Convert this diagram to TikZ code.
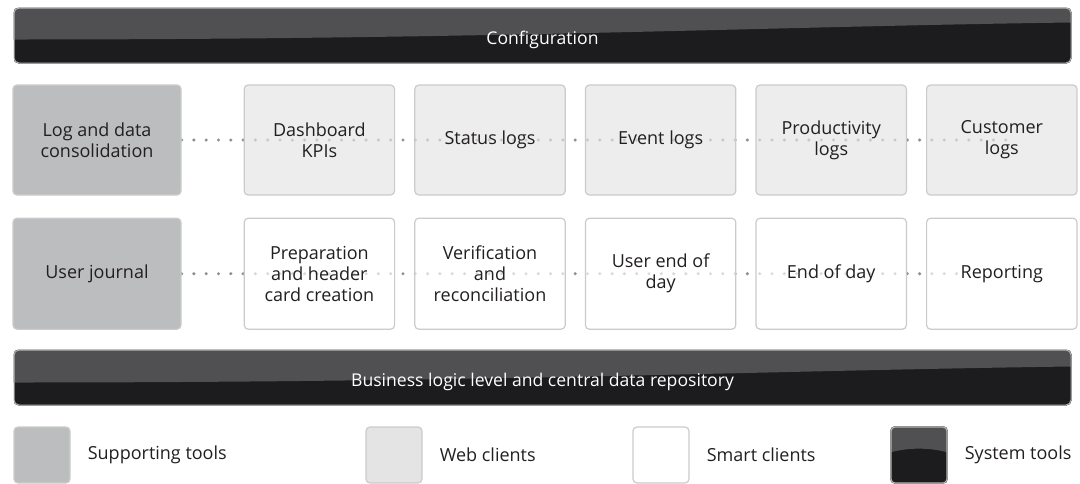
\documentclass[tikz,border=0pt]{standalone}
\usepackage{fontspec}
\setmainfont{Open Sans}
\usetikzlibrary{positioning, backgrounds}

\definecolor{supportgray}{HTML}{BCBDBF}
\definecolor{webgray}{HTML}{E3E4E3}
\definecolor{boxline}{HTML}{CBCBCB}
\definecolor{barlight}{HTML}{505052}
\definecolor{bardark}{HTML}{1C1B1E}
\definecolor{barline}{HTML}{B4B4B4}
\definecolor{dotgray}{HTML}{8E8E8E}
\definecolor{textdark}{HTML}{231F20}

% light upper part of a dark bar
\newcommand{\barshade}[3]{%
  \begin{scope}
    \clip[rounded corners=5pt] (#1.north west) rectangle (#1.south east);
    \fill[bardark] (#1.north west) rectangle (#1.south east);
    \fill[barlight] (#1.north west) -- ([yshift=-#2]#1.north west)
      .. controls ([xshift=480pt,yshift=-#2]#1.north west) and ([xshift=-300pt,yshift=-#3-4pt]#1.north east)
      .. ([yshift=-#3]#1.north east) -- (#1.north east) -- cycle;
  \end{scope}}

\begin{document}
\begin{tikzpicture}[x=1pt, y=-1pt, node distance=19pt,
    block/.style={draw=boxline, line width=1.2pt, rounded corners=4pt, minimum width=150.4pt, minimum height=110pt,
      align=center, inner sep=0pt, text=textdark, fill opacity=0.68, text opacity=1,
      font=\fontsize{18}{21}\selectfont},
    bar/.style={draw=barline, line width=1pt, rounded corners=5pt, minimum width=1057pt, minimum height=55pt,
      text=white, text height=17pt, text depth=0pt, font=\fontsize{17.6}{21}\selectfont},
    legsq/.style={draw=boxline, line width=1.2pt, rounded corners=4pt, minimum size=56pt, inner sep=0pt},
    legtext/.style={right=17pt of #1, text=textdark, font=\fontsize{18}{21}\selectfont, inner sep=0pt},
    dots/.style={dotgray, line width=3.4pt, line cap=round, dash pattern=on 0pt off 12.3pt}]

    \useasboundingbox (0,0) rectangle (1080,483);

    % Bars
    \node[bar] (config) at (542.5,35.5) {Configuration};
    \node[bar] (repo) at (542.5,377.5) {Business logic level and central data repository};

    % Row of logs
    \node[block, fill=supportgray, fill opacity=1, minimum width=168pt] (log) at (97,140) {Log and data\\consolidation};
    \node[block, fill=webgray, right=62pt of log] (kpi) {Dashboard\\KPIs};
    \node[block, fill=webgray, right=of kpi] (status) {Status logs};
    \node[block, fill=webgray, right=of status] (event) {Event logs};
    \node[block, fill=webgray, right=of event] (prod) {Productivity\\logs};
    \node[block, fill=webgray, right=of prod] (cust) {Customer\\logs};

    % Row of user tasks
    \node[block, fill=supportgray, fill opacity=1, minimum width=168pt, minimum height=111pt, below=22pt of log] (journal) {User journal};
    \node[block, fill=white, minimum height=111pt, right=62pt of journal] (prep) {Preparation\\and header\\card creation};
    \node[block, fill=white, minimum height=111pt, right=of prep] (verif) {Verification\\and\\reconciliation};
    \node[block, fill=white, minimum height=111pt, right=of verif] (userend) {User end of\\day};
    \node[block, fill=white, minimum height=111pt, right=of userend] (eod) {End of day};
    \node[block, fill=white, minimum height=111pt, right=of eod] (report) {Reporting};

    \coordinate[right=15pt of cust.center] (logsend);
    \coordinate[left=40pt of report.center] (tasksend);

    % Legend
    \node[legsq, fill=supportgray] (legsupport) at (42,455) {};
    \node[legtext=legsupport] {Supporting tools};
    \node[legsq, fill=webgray] (legweb) at (394,455) {};
    \node[legtext=legweb] {Web clients};
    \node[legsq, fill=white] (legsmart) at (661,455) {};
    \node[legtext=legsmart] {Smart clients};
    \node[legsq, draw=barline] (legsys) at (919,455) {};
    \node[legtext=legsys] {System tools};

    \begin{scope}[on background layer]
        \barshade{config}{32pt}{15pt}
        \barshade{repo}{33pt}{17pt}
        \begin{scope}
            \clip[rounded corners=4pt] (legsys.north west) rectangle (legsys.south east);
            \fill[bardark] (legsys.north west) rectangle (legsys.south east);
            \fill[barlight] (legsys.north west) -- ([yshift=-26pt]legsys.north west)
              .. controls ([xshift=18pt,yshift=-21pt]legsys.north west) and ([xshift=-18pt,yshift=-21pt]legsys.north east)
              .. ([yshift=-26pt]legsys.north east) -- (legsys.north east) -- cycle;
        \end{scope}
        % Dotted links
        \draw[dots] (log) -- (logsend);
        \draw[dots] (journal) -- (tasksend);
    \end{scope}
\end{tikzpicture}
\end{document}
